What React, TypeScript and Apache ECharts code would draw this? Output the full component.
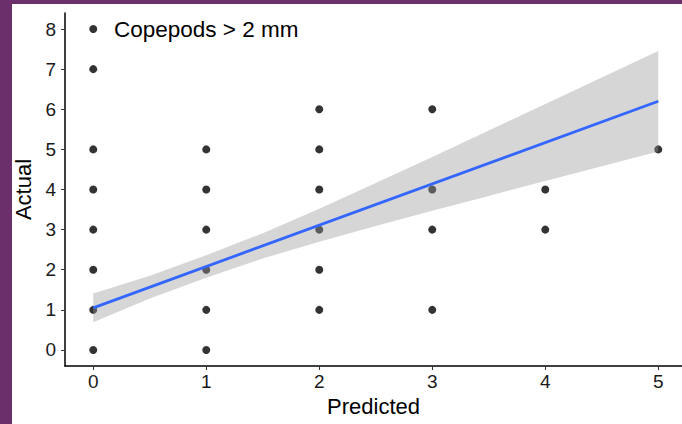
import React, { useEffect, useRef } from "react";
import * as echarts from "echarts";

const predicted = [0, 0, 0, 0, 0, 0, 0, 0, 1, 1, 1, 1, 1, 1, 2, 2, 2, 2, 2, 2, 3, 3, 3, 3, 4, 4, 5];
const actual = [0, 1, 2, 3, 4, 5, 7, 8, 0, 1, 2, 3, 4, 5, 1, 2, 3, 4, 5, 6, 1, 3, 4, 6, 3, 4, 5];

const fitX = [0, 5];
const fitY = [1.05, 6.2];

const bandX = [0, 0.5, 1, 1.5, 2, 2.5, 3, 3.5, 4, 4.5, 5];
const bandLower = [0.69, 1.28, 1.8, 2.28, 2.7, 3.09, 3.47, 3.84, 4.21, 4.58, 4.95];
const bandUpper = [1.41, 1.85, 2.36, 2.91, 3.52, 4.16, 4.81, 5.47, 6.13, 6.79, 7.45];

const xTicks = [0, 1, 2, 3, 4, 5];
const yTicks = [0, 1, 2, 3, 4, 5, 6, 7, 8];

const annotation = "Copepods > 2 mm";

export default function App() {
  const ref = useRef<HTMLDivElement>(null);
  useEffect(() => {
    if (!ref.current) return;
    const chart = echarts.init(ref.current, null, { renderer: "svg" });
    const font = "'Liberation Sans', Arial, sans-serif";
    chart.setOption({
      animation: false,
      backgroundColor: "#ffffff",
      textStyle: { fontFamily: font },
      grid: { left: 65, top: 13, right: 0, bottom: 58, containLabel: false },
      xAxis: {
        type: "value",
        min: -0.25,
        max: 5.21,
        splitLine: { show: false },
        axisLine: { show: true, onZero: false, lineStyle: { color: "#000", width: 1.5 } },
        axisTick: { show: true, length: 4, customValues: xTicks, lineStyle: { color: "#333" } },
        axisLabel: { customValues: xTicks, color: "#1a1a1a", fontSize: 19, fontFamily: font, margin: 6 },
        name: "Predicted",
        nameLocation: "middle",
        nameGap: 27,
        nameTextStyle: { color: "#000", fontSize: 22, fontFamily: font },
      },
      yAxis: {
        type: "value",
        min: -0.4,
        max: 8.4,
        splitLine: { show: false },
        axisLine: { show: true, onZero: false, lineStyle: { color: "#000", width: 1.5 } },
        axisTick: { show: true, length: 4, customValues: yTicks, lineStyle: { color: "#333" } },
        axisLabel: { customValues: yTicks, color: "#1a1a1a", fontSize: 19, fontFamily: font, margin: 9 },
        name: "Actual",
        nameLocation: "middle",
        nameGap: 26,
        nameRotate: 90,
        nameTextStyle: { color: "#000", fontSize: 22, fontFamily: font },
      },
      graphic: [
        { type: "rect", z: 100, shape: { x: 0, y: 0, width: 12, height: 424 }, style: { fill: "#6b2f6b" } },
        { type: "rect", z: 100, shape: { x: 0, y: 0, width: 682, height: 4 }, style: { fill: "#6b2f6b" } },
        {
          type: "text",
          x: 114,
          y: 29,
          z: 100,
          style: { text: annotation, fill: "#000", fontSize: 22.5, fontFamily: font, verticalAlign: "middle", align: "left" },
        },
      ],
      series: [
        {
          type: "scatter",
          z: 2,
          symbol: "circle",
          symbolSize: 8,
          itemStyle: { color: "#000" },
          data: predicted.map((p, i) => [p, actual[i]]),
        },
        {
          type: "custom",
          z: 3,
          data: [[0, 0]],
          renderItem: (params: any, api: any) => {
            const pts: number[][] = [];
            for (let i = 0; i < bandX.length; i++) pts.push(api.coord([bandX[i], bandUpper[i]]));
            for (let i = bandX.length - 1; i >= 0; i--) pts.push(api.coord([bandX[i], bandLower[i]]));
            return {
              type: "polygon",
              shape: { points: pts },
              style: { fill: "rgba(153,153,153,0.4)", stroke: "none" },
            };
          },
        },
        {
          type: "line",
          z: 4,
          symbol: "none",
          lineStyle: { color: "#3366FF", width: 2.8 },
          data: fitX.map((x, i) => [x, fitY[i]]),
        },
      ],
    });
    return () => chart.dispose();
  }, []);
  return (
    <div style={{ position: "fixed", left: 0, top: 0, width: 682, height: 424 }}>
      <div ref={ref} style={{ width: 682, height: 424 }} />
    </div>
  );
}
